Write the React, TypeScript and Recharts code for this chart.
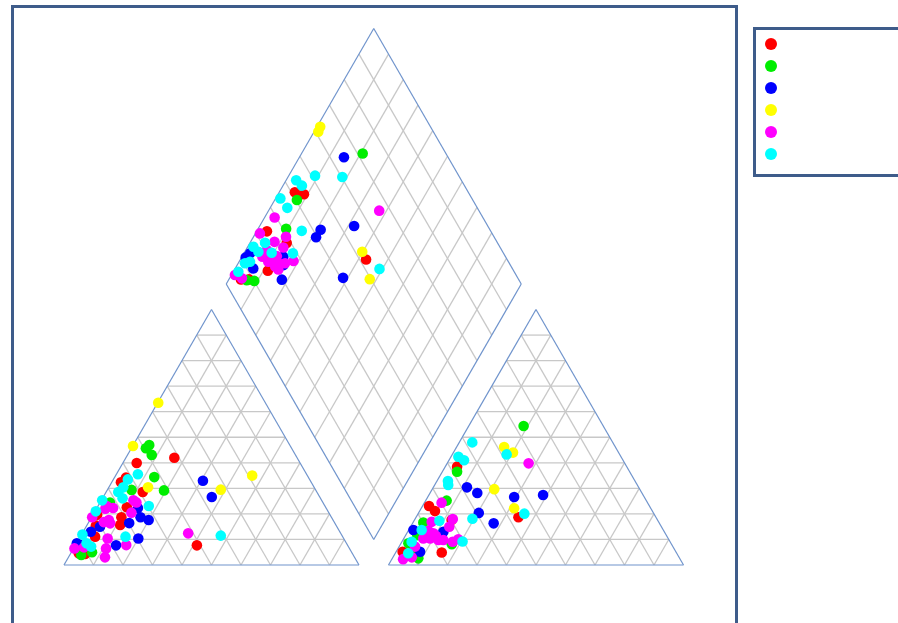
import { ScatterChart, Scatter, XAxis, YAxis, ReferenceLine } from "recharts";

type Pair = [number, number];
type Pt = { x: number; y: number };

const SIN60 = Math.sqrt(3) / 2;
const GAP = 10; // space between the panels, in percent units

const WIDTH = 898;
const HEIGHT = 623;
// data window chosen so 1 percent unit = 2.95px, left triangle corner at (64, 565)
const X_DOMAIN: [number, number] = [-21.69, 282.71];
const Y_DOMAIN: [number, number] = [-19.66, 191.53];

const groupNames = ["Group 1", "Group 2", "Group 3", "Group 4", "Group 5", "Group 6"];
const groupColors = ["#FF0000", "#00EE00", "#0000FF", "#FFFF00", "#FF00FF", "#00FFFF"];

// cation triangle: [Na+K %, Mg %]
const cationsRed: Pair[] = [[16.4, 42.0], [4.7, 39.9], [3.9, 34.2], [3.1, 32.4], [12.4, 28.6], [10.0, 22.6], [1.4, 19.7], [10.1, 18.7], [3.1, 15.4], [11.2, 15.7], [5.0, 11.1], [41.2, 7.7], [2.7, 4.6], [5.0, 4.3]];
const cationsGreen: Pair[] = [[5.4, 47.0], [4.9, 45.7], [8.2, 43.1], [13.4, 34.4], [19.3, 29.2], [8.2, 29.4], [3.4, 24.4], [3.9, 3.9], [7.0, 5.0]];
const cationsBlue: Pair[] = [[30.6, 33.0], [36.8, 26.6], [13.9, 22.3], [16.6, 18.7], [19.9, 17.6], [13.9, 16.4], [4.7, 15.0], [2.6, 13.0], [20.0, 10.4], [13.8, 7.7], [0.1, 8.5], [1.4, 7.9]];
const cationsYellow: Pair[] = [[0.2, 63.5], [0.1, 46.6], [46.3, 35.0], [38.4, 29.5], [13.3, 30.4]];
const cationsMagenta: Pair[] = [[35.9, 12.4], [10.9, 25.3], [12.3, 24.5], [2.9, 23.1], [5.5, 22.3], [3.0, 22.0], [0.2, 18.7], [12.6, 20.5], [6.4, 17.6], [5.1, 16.8], [7.5, 16.3], [9.6, 10.4], [17.2, 7.8], [11.0, 6.5], [12.4, 3.0], [3.3, 6.9], [0.3, 6.5]];
const cationsCyan: Pair[] = [[7.3, 35.5], [4.9, 33.5], [4.9, 30.4], [4.1, 28.6], [6.8, 26.1], [0.3, 25.3], [17.2, 23.1], [0.3, 21.0], [0.3, 11.9], [15.3, 11.1], [47.4, 11.5], [3.4, 8.5], [5.6, 7.2]];

// anion triangle: [Cl %, SO4 %]
const anionsRed: Pair[] = [[4.0, 38.5], [34.7, 18.7], [2.2, 23.1], [5.2, 21.1], [12.6, 17.6], [15.6, 4.9], [2.2, 5.2]];
const anionsGreen: Pair[] = [[18.6, 54.4], [5.0, 36.5], [7.1, 25.2], [3.5, 16.6], [3.9, 11.7], [17.4, 8.1], [2.5, 8.5], [5.5, 4.8], [8.8, 2.6]];
const anionsBlue: Pair[] = [[11.4, 30.4], [16.0, 28.2], [29.3, 26.6], [38.7, 27.4], [20.4, 20.4], [27.5, 16.3], [1.6, 13.7], [12.1, 13.0], [8.1, 5.2]];
const anionsYellow: Pair[] = [[16.1, 46.2], [20.2, 44.0], [21.0, 29.7], [31.5, 22.2]];
const anionsMagenta: Pair[] = [[27.6, 39.8], [5.8, 24.4], [12.8, 18.0], [6.2, 16.9], [13.1, 15.0], [6.8, 13.4], [9.0, 12.4], [8.9, 10.4], [12.0, 9.8], [13.7, 9.8], [17.2, 9.1], [18.6, 10.1], [6.6, 10.4], [5.4, 7.2], [3.8, 2.3], [6.4, 3.0], [10.4, 11.4]];
const anionsCyan: Pair[] = [[4.4, 48.0], [18.4, 43.3], [2.5, 42.4], [5.1, 41.0], [3.7, 32.9], [4.6, 31.3], [36.0, 20.1], [19.4, 18.1], [8.6, 17.3], [20.5, 9.2], [4.4, 13.7], [3.3, 9.1], [4.4, 4.6]];

// diamond: [Na+K %, SO4+Cl %]
const diamondRed: Pair[] = [[5.3, 41.2], [8.8, 43.9], [3.5, 24.1], [12.5, 28.5], [11.5, 16.7], [42.6, 52.2], [4.1, 5.9], [6.8, 8.6]];
const diamondGreen: Pair[] = [[20.7, 71.8], [7.5, 40.4], [9.5, 31.1], [6.2, 7.7], [8.9, 10.1]];
const diamondBlue: Pair[] = [[15.1, 64.7], [21.4, 42.6], [21.3, 39.6], [32.0, 54.7], [38.4, 40.8], [18.0, 19.7], [2.1, 14.1], [1.4, 11.8], [14.0, 24.7], [6.1, 12.2], [15.7, 23.1]];
const diamondYellow: Pair[] = [[1.1, 62.6], [1.4, 61.0], [39.8, 52.4], [47.7, 49.6]];
const diamondMagenta: Pair[] = [[37.5, 66.2], [3.4, 29.4], [1.5, 21.3], [11.0, 29.5], [8.1, 24.6], [12.2, 26.5], [7.1, 20.4], [6.9, 17.6], [9.9, 19.9], [11.7, 22.6], [15.9, 24.0], [18.3, 27.3], [9.9, 18.6], [13.6, 21.7], [13.2, 20.0], [1.2, 4.7], [4.2, 6.4], [14.8, 20.5]];
const diamondCyan: Pair[] = [[8.9, 51.3], [18.4, 60.3], [3.4, 44.0], [6.4, 44.9], [1.6, 35.1], [5.8, 35.6], [15.2, 36.0], [16.6, 28.6], [49.0, 54.9], [1.9, 16.5], [5.1, 21.2], [4.6, 17.2], [9.3, 21.5], [2.3, 10.4], [3.7, 12.4], [1.7, 6.5]];

const cations = [cationsRed, cationsGreen, cationsBlue, cationsYellow, cationsMagenta, cationsCyan];
const anions = [anionsRed, anionsGreen, anionsBlue, anionsYellow, anionsMagenta, anionsCyan];
const diamonds = [diamondRed, diamondGreen, diamondBlue, diamondYellow, diamondMagenta, diamondCyan];

// ternary -> cartesian
const cationPt = ([nak, mg]: Pair): Pt => ({ x: nak + mg / 2, y: mg * SIN60 });
const anionPt = ([cl, so4]: Pair): Pt => ({ x: 100 + GAP + cl + so4 / 2, y: so4 * SIN60 });
// p runs along the upper-left edge, q along the lower-left edge of the diamond
const diamondXY = (p: number, q: number): Pt => ({
  x: 100 + GAP / 2 + (p - q) / 2,
  y: GAP * SIN60 + (p + q) * SIN60,
});
const diamondPt = ([nak, so4cl]: Pair): Pt => diamondXY(so4cl, 100 - nak);

const series = groupNames.map((name, i) => ({
  name,
  color: groupColors[i],
  data: [...cations[i].map(cationPt), ...anions[i].map(anionPt), ...diamonds[i].map(diamondPt)],
}));

type Seg = [Pt, Pt];

const triangleGrid = (x0: number): Seg[] => {
  const out: Seg[] = [];
  for (let i = 10; i < 100; i += 10) {
    const h = i * SIN60;
    out.push([{ x: x0 + i / 2, y: h }, { x: x0 + 100 - i / 2, y: h }]);
    out.push([{ x: x0 + i, y: 0 }, { x: x0 + i + (100 - i) / 2, y: (100 - i) * SIN60 }]);
    out.push([{ x: x0 + 100 - i, y: 0 }, { x: x0 + (100 - i) / 2, y: (100 - i) * SIN60 }]);
  }
  return out;
};

const diamondGrid = (): Seg[] => {
  const out: Seg[] = [];
  for (let i = 10; i < 100; i += 10) {
    out.push([diamondXY(i, 0), diamondXY(i, 100)]);
    out.push([diamondXY(0, i), diamondXY(100, i)]);
  }
  return out;
};

const triangleEdges = (x0: number): Seg[] => {
  const a = { x: x0, y: 0 };
  const b = { x: x0 + 100, y: 0 };
  const c = { x: x0 + 50, y: 100 * SIN60 };
  return [[a, b], [b, c], [c, a]];
};

const diamondEdges = (): Seg[] => {
  const bottom = diamondXY(0, 0);
  const left = diamondXY(0, 100);
  const top = diamondXY(100, 100);
  const right = diamondXY(100, 0);
  return [[bottom, left], [left, top], [top, right], [right, bottom]];
};

const gridSegs = [...triangleGrid(0), ...triangleGrid(100 + GAP), ...diamondGrid()];
const edgeSegs = [...triangleEdges(0), ...triangleEdges(100 + GAP), ...diamondEdges()];

const FRAME = "#3E5C8A";

export default function App() {
  return (
    <div style={{ position: "fixed", left: 0, top: 0, width: WIDTH, height: HEIGHT, overflow: "hidden", background: "#fff" }}>
      <div
        style={{
          position: "absolute",
          left: 11,
          top: 5,
          width: 727,
          height: 660,
          border: `3px solid ${FRAME}`,
          boxSizing: "border-box",
        }}
      />
      <div style={{ position: "absolute", left: 0, top: 0 }}>
        <ScatterChart width={WIDTH} height={HEIGHT} margin={{ top: 0, right: 0, bottom: 0, left: 0 }}>
          <XAxis type="number" dataKey="x" domain={X_DOMAIN} hide allowDataOverflow />
          <YAxis type="number" dataKey="y" domain={Y_DOMAIN} hide allowDataOverflow />
          {gridSegs.map((s, i) => (
            <ReferenceLine key={`g${i}`} segment={s} stroke="#C8C8C8" strokeWidth={1.3} ifOverflow="visible" />
          ))}
          {edgeSegs.map((s, i) => (
            <ReferenceLine key={`e${i}`} segment={s} stroke="#7094CC" strokeWidth={1.2} ifOverflow="visible" />
          ))}
          {series.map((s) => (
            <Scatter
              key={s.name}
              name={s.name}
              data={s.data}
              fill={s.color}
              isAnimationActive={false}
              shape={(p: any) => <circle cx={p.cx} cy={p.cy} r={5.3} fill={s.color} />}
            />
          ))}
        </ScatterChart>
      </div>
      <div
        style={{
          position: "absolute",
          left: 753,
          top: 27,
          width: 200,
          height: 150,
          border: `3px solid ${FRAME}`,
          boxSizing: "border-box",
        }}
      >
        {series.map((s, i) => (
          <div
            key={s.name}
            style={{
              position: "absolute",
              left: 8.5,
              top: 7.5 + i * 22,
              width: 12,
              height: 12,
              borderRadius: "50%",
              background: s.color,
            }}
          />
        ))}
      </div>
    </div>
  );
}
